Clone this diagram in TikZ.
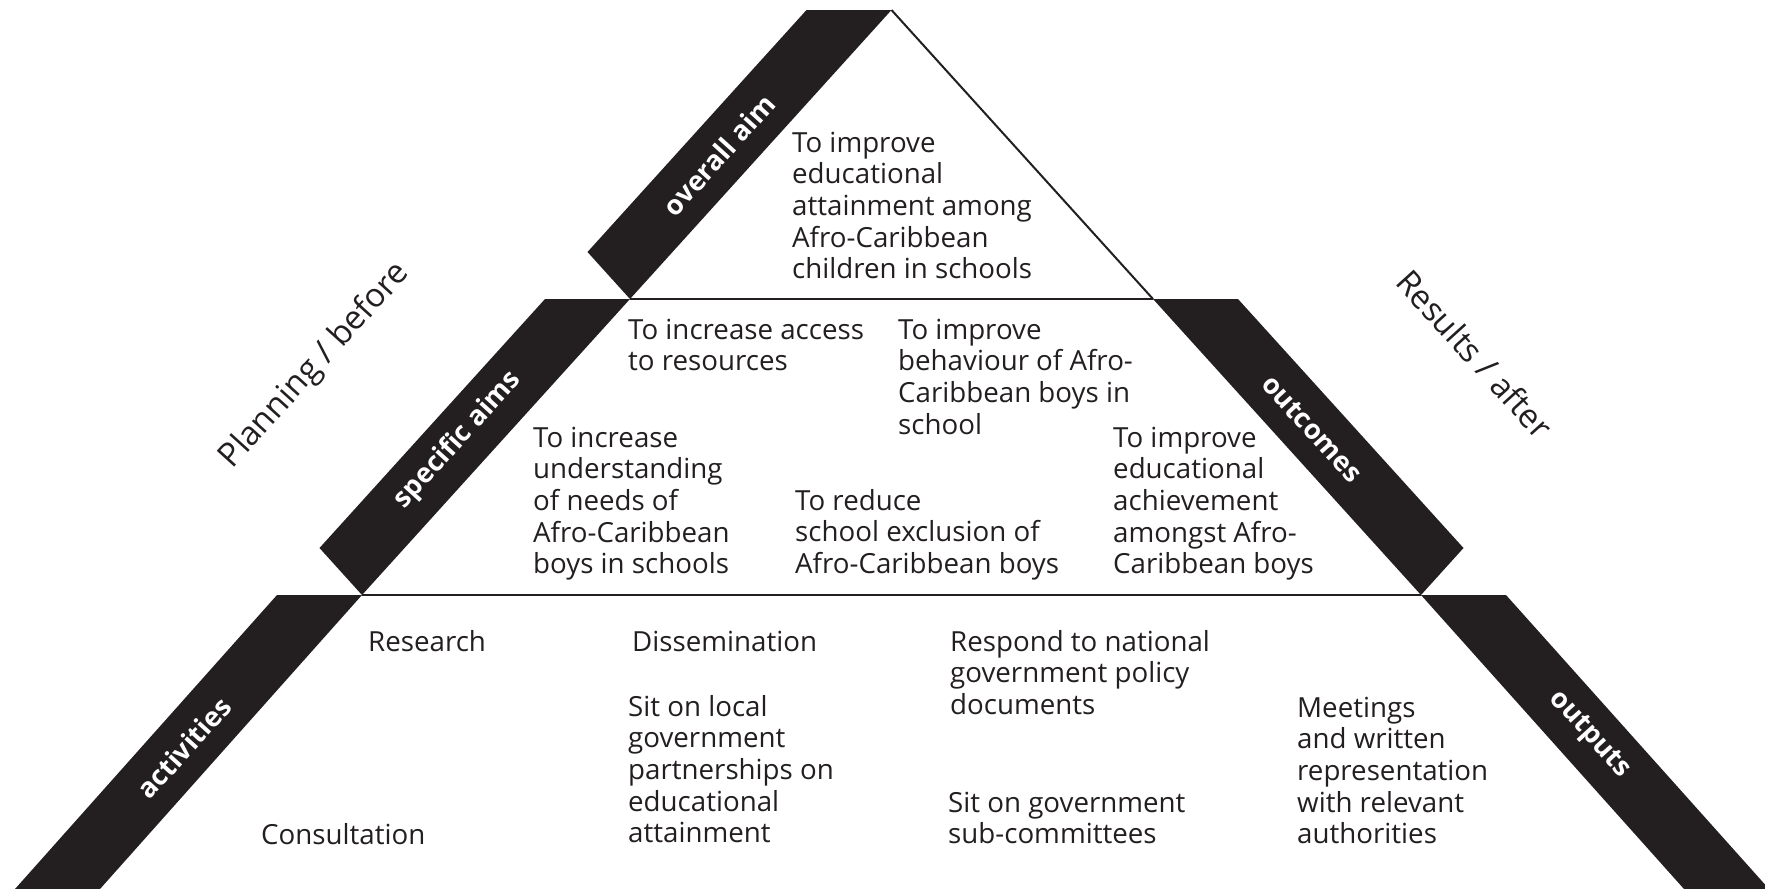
\documentclass[tikz,border=0pt]{standalone}
\usepackage{fontspec}
\setmainfont{Open Sans}
\usetikzlibrary{calc}
\definecolor{ink}{HTML}{231F20}
\newcommand{\lines}[1]{\begin{tabular}[t]{@{}l@{}}#1\end{tabular}}
\begin{document}
\begin{tikzpicture}[x=1pt,y=-1pt,
  band/.style={fill=ink,draw=none},
  edge/.style={draw=ink,line width=2pt},
  body/.style={text=ink,inner sep=0pt,anchor=base west,font=\fontsize{27.7}{31.7}\selectfont},
  tag/.style={text=white,inner sep=0pt,font=\bfseries\fontsize{27.3}{30}\selectfont},
  side/.style={text=ink,inner sep=0pt,font=\fontsize{33}{38}\selectfont}]
\useasboundingbox (0,0) rectangle (1765,889);
\clip (0,0) rectangle (1765,889);
% key points
\coordinate (A) at (891.5,10);
\coordinate (L1) at (630,299);
\coordinate (R1) at (1153,299);
\coordinate (L2) at (362,595);
\coordinate (R2) at (1421,595);
\coordinate (L3) at (100,889);
\coordinate (R3) at (1684,889);
% bands
\fill[band] (A) -- (L1) -- ($(L1)+(-42.5,-47)$) -- ($(A)+(-85,0)$) -- cycle;
\fill[band] (L1) -- (L2) -- ($(L2)+(-42.5,-47)$) -- ($(L1)+(-85,0)$) -- cycle;
\fill[band] (L2) -- (L3) -- ($(L3)+(-85,0)$) -- ($(L2)+(-85,0)$) -- cycle;
\fill[band] (R1) -- (R2) -- ($(R2)+(42.5,-47)$) -- ($(R1)+(85,0)$) -- cycle;
\fill[band] (R2) -- (R3) -- ($(R3)+(85,0)$) -- ($(R2)+(85,0)$) -- cycle;
% lines
\draw[edge] (A) -- (R1);
\draw[edge] (L1) -- (R1);
\draw[edge] (L2) -- (R2);
% band labels
\node[tag,rotate=47.8] (overall) at (719,155) {overall aim};
\node[tag,rotate=47.8] (specific) at (458,440) {specific aims};
\node[tag,rotate=47.8] (activities) at (184,748) {activities};
\node[tag,rotate=-47.8] (outcomes) at (1312,429) {outcomes};
\node[tag,rotate=-47.8] (outputs) at (1589,735) {outputs};
% side labels
\node[side,rotate=47.8] (planning) at (315,366) {Planning / before};
\node[side,rotate=-47.8] (results) at (1475,354) {Results / after};
% texts
\node[body] (t1) at (792,152) {\lines{To improve\\educational\\attainment among\\Afro-Caribbean\\children in schools}};
\node[body] (t2) at (628,339) {\lines{To increase access\\to resources}};
\node[body] (t3) at (898,339) {\lines{To improve\\behaviour of Afro-\\Caribbean boys in\\school}};
\node[body] (t4) at (533,447) {\lines{To increase\\understanding\\of needs of\\Afro-Caribbean\\boys in schools}};
\node[body] (t5) at (795,510) {\lines{To reduce\\school exclusion of\\Afro-Caribbean boys}};
\node[body] (t6) at (1113,447) {\lines{To improve\\educational\\achievement\\amongst Afro-\\Caribbean boys}};
\node[body] (t7) at (368,651) {Research};
\node[body] (t8) at (632,651) {Dissemination};
\node[body] (t9) at (950,651) {\lines{Respond to national\\government policy\\documents}};
\node[body] (t10) at (628,716) {\lines{Sit on local\\government\\partnerships on\\educational\\attainment}};
\node[body] (t11) at (1297,717) {\lines{Meetings\\and written\\representation\\with relevant\\authorities}};
\node[body] (t12) at (261,844) {Consultation};
\node[body] (t13) at (948,812) {\lines{Sit on government\\sub-committees}};
\end{tikzpicture}
\end{document}
